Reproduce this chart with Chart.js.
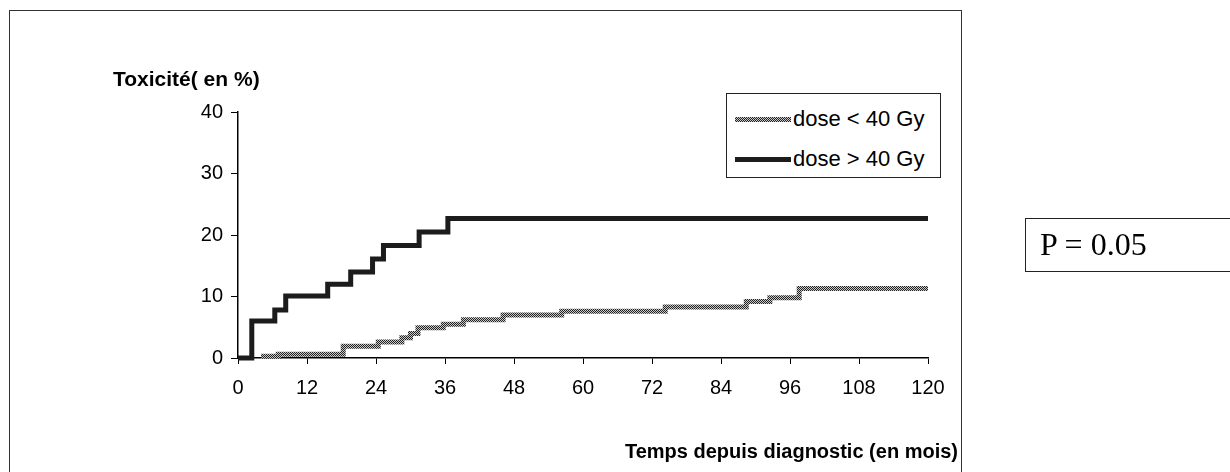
<!DOCTYPE html>
<html>
<head>
<meta charset="utf-8">
<title>Toxicité</title>
<style>
  body { margin: 0; padding: 0; background: #fff; font-family: "Liberation Sans", Arial, sans-serif; }
  #wrap { position: relative; width: 1230px; height: 472px; overflow: hidden; }
  #cadre { position: absolute; left: 9px; top: 10px; width: 953px; height: 500px; border: 1.5px solid #333; box-sizing: border-box; }
  #graph { position: absolute; left: 0; top: 0; }
  .titre { position: absolute; font-weight: bold; color: #000; white-space: nowrap; }
  #titreY { left: 113px; top: 67px; font-size: 21px; }
  #titreX { right: 272px; top: 440px; font-size: 20px; }
  #legende { position: absolute; left: 726px; top: 93px; width: 215px; height: 85px; border: 1px solid #222; box-sizing: border-box; background: #fff; }
  .item { position: absolute; left: 8px; height: 26px; display: flex; align-items: center; font-size: 22px; white-space: nowrap; }
  .trait { display: inline-block; width: 56px; height: 5px; margin-right: 2px; }
  #pbox { position: absolute; left: 1025px; top: 218px; width: 240px; height: 54px; border: 1.5px solid #222; box-sizing: border-box;
          font-family: "Liberation Serif", "Times New Roman", serif; font-size: 32px; line-height: 50px; padding-left: 14px; }
</style>
</head>
<body>
<div id="wrap">
  <div id="cadre"></div>
  <canvas id="graph" width="1230" height="472"></canvas>
  <div class="titre" id="titreY">Toxicité( en %)</div>
  <div class="titre" id="titreX">Temps depuis diagnostic (en mois)</div>
  <div id="legende"></div>
  <div id="pbox">P = 0.05</div>
</div>

<script src="https://cdn.jsdelivr.net/npm/chart.js"></script>
<script>
  // Données (mois, % de toxicité)
  var nomsSeries = ['dose < 40 Gy', 'dose > 40 Gy'];

  var moisFaible = [4, 7, 18.3, 24.4, 28.5, 30, 31.3, 35.7, 39.2, 46.1, 56.3, 74.3, 88.4, 92.5, 97.6, 120];
  var toxFaible  = [0.3, 0.6, 1.9, 2.6, 3.3, 4.0, 4.9, 5.5, 6.2, 7.0, 7.6, 8.3, 9.2, 9.8, 11.3, 11.3];

  var moisForte = [0, 2.4, 6.4, 8.3, 15.6, 19.6, 23.4, 25.3, 31.5, 36.5, 120];
  var toxForte  = [0, 6.0, 7.8, 10.1, 12.0, 14.0, 16.1, 18.3, 20.5, 22.7, 22.7];

  var ticksX = [0, 12, 24, 36, 48, 60, 72, 84, 96, 108, 120];
  var ticksY = [0, 10, 20, 30, 40];

  // motif tramé (gris) comme sur l'original
  function trame() {
    var c = document.createElement('canvas');
    c.width = 2; c.height = 2;
    var g = c.getContext('2d');
    g.fillStyle = '#c8c8c8'; g.fillRect(0, 0, 2, 2);
    g.fillStyle = '#222'; g.fillRect(0, 0, 1, 1); g.fillRect(1, 1, 1, 1);
    return g.createPattern(c, 'repeat');
  }

  function points(xs, ys) {
    return xs.map(function (x, i) { return { x: x, y: ys[i] }; });
  }

  var police = { family: '"Liberation Sans", Arial, sans-serif', size: 20 };

  var ctx = document.getElementById('graph').getContext('2d');
  var graphe = new Chart(ctx, {
    type: 'line',
    data: {
      datasets: [{
        label: nomsSeries[0],
        data: points(moisFaible, toxFaible),
        borderColor: trame(),
        borderWidth: 5,
        stepped: 'before',
        pointRadius: 0,
        fill: false,
        clip: false
      }, {
        label: nomsSeries[1],
        data: points(moisForte, toxForte),
        borderColor: '#1c1c1c',
        borderWidth: 5,
        stepped: 'before',
        pointRadius: 0,
        fill: false,
        clip: false
      }]
    },
    options: {
      responsive: false,
      animation: false,
      layout: { padding: { left: 0, top: 112, right: 302, bottom: 0 } },
      plugins: { legend: { display: false }, tooltip: { enabled: false } },
      scales: {
        x: {
          type: 'linear', min: 0, max: 120,
          afterBuildTicks: function (s) { s.ticks = ticksX.map(function (v) { return { value: v }; }); },
          afterFit: function (s) { s.height = 114; },
          ticks: { color: '#000', font: police, padding: 12, maxRotation: 0, autoSkip: false },
          grid: { drawOnChartArea: false, drawTicks: true, tickLength: 6, color: '#000' },
          border: { display: true, color: '#000', width: 1.5 }
        },
        y: {
          min: 0, max: 40,
          afterBuildTicks: function (s) { s.ticks = ticksY.map(function (v) { return { value: v }; }); },
          afterFit: function (s) { s.width = 238; },
          ticks: { color: '#000', font: police, padding: 8 },
          grid: { drawOnChartArea: false, drawTicks: true, tickLength: 7, color: '#000' },
          border: { display: true, color: '#000', width: 1.5 }
        }
      }
    }
  });

  // légende faite à la main (cadre comme l'original)
  var leg = document.getElementById('legende');
  var styles = [
    'background: repeating-conic-gradient(#222 0 25%, #c8c8c8 0 50%) 0 0/2px 2px;',
    'background: #1c1c1c;'
  ];
  var hauts = [12, 52];
  nomsSeries.forEach(function (nom, i) {
    var d = document.createElement('div');
    d.className = 'item';
    d.style.top = hauts[i] + 'px';
    d.innerHTML = '<span class="trait" style="' + styles[i] + '"></span>';
    d.appendChild(document.createTextNode(nom));
    leg.appendChild(d);
  });
</script>
</body>
</html>
